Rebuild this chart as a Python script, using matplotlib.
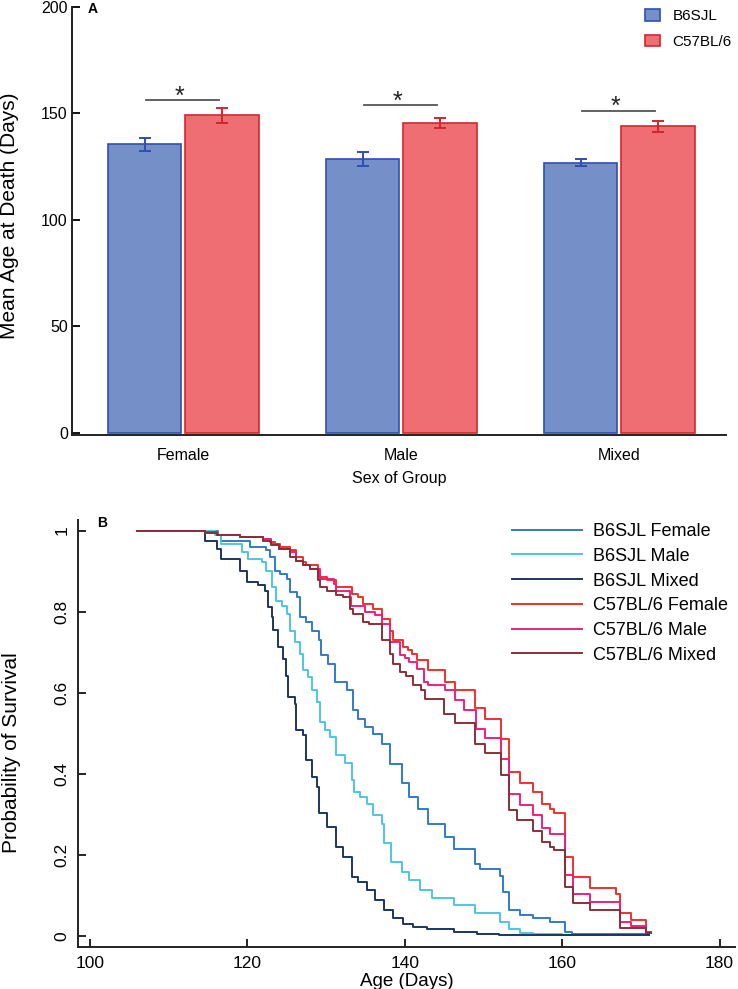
import numpy as np
import matplotlib
matplotlib.use("Agg")
import matplotlib.pyplot as plt

plt.rcParams['font.family'] = ['Liberation Sans', 'DejaVu Sans']

# panel A data
groups = ["Female", "Male", "Mixed"]
strains = ["B6SJL", "C57BL/6"]
mean_b6sjl = [135.5, 128.5, 126.9]
err_b6sjl = [3.0, 3.2, 1.5]
mean_c57 = [149.1, 145.5, 143.9]
err_c57 = [3.4, 2.4, 2.4]
sig_line_y = [156.3, 153.8, 151.3]

# panel B data (Kaplan-Meier steps: day, survival after step)
b6_female_days = [106, 116.3, 116.7, 120.3, 122.4, 122.9, 123.5, 124.2, 125.0, 125.4,
                  126.3, 126.7, 127.5, 128.2, 129.1, 129.4, 130.3, 131.1, 132.6, 133.4,
                  134.1, 134.9, 136.0, 137.1, 138.1, 139.6, 140.6, 141.7, 143.0, 145.1,
                  146.2, 148.9, 149.5, 152.1, 152.5, 153.3, 154.6, 156.3, 158.5, 160.3,
                  161.2, 171.0]
b6_female_surv = [1.0, 0.988, 0.975, 0.959, 0.951, 0.934, 0.901, 0.893, 0.881, 0.848,
                  0.836, 0.786, 0.774, 0.753, 0.729, 0.692, 0.671, 0.626, 0.606, 0.556,
                  0.536, 0.515, 0.497, 0.472, 0.425, 0.376, 0.343, 0.314, 0.277, 0.244,
                  0.215, 0.178, 0.165, 0.147, 0.108, 0.063, 0.051, 0.043, 0.035, 0.010,
                  0.004, 0.004]

b6_male_days = [106, 115.9, 116.7, 119.3, 120.1, 121.8, 122.4, 123.1, 123.7, 124.4,
                125.0, 125.4, 126.0, 126.7, 127.1, 127.7, 128.2, 128.8, 129.2, 129.9,
                130.5, 131.2, 132.4, 133.3, 133.5, 134.3, 135.2, 136.0, 137.1, 137.3,
                138.3, 139.6, 140.6, 141.9, 143.4, 146.2, 148.9, 152.1, 153.2, 154.6,
                156.3, 160.0, 165.0]
b6_male_surv = [1.0, 0.988, 0.967, 0.946, 0.930, 0.922, 0.901, 0.860, 0.827, 0.815,
                0.795, 0.753, 0.725, 0.696, 0.655, 0.639, 0.606, 0.577, 0.527, 0.507,
                0.491, 0.445, 0.426, 0.384, 0.355, 0.343, 0.326, 0.298, 0.277, 0.228,
                0.182, 0.158, 0.137, 0.113, 0.092, 0.076, 0.055, 0.035, 0.016, 0.008,
                0.004, 0.001, 0.001]

b6_mixed_days = [106, 114.6, 116.1, 116.7, 119.1, 119.9, 121.4, 122.2, 122.6, 123.1,
                 123.3, 123.9, 124.5, 124.9, 125.2, 126.0, 126.2, 127.1, 127.5, 128.2,
                 128.8, 129.1, 130.1, 131.2, 132.2, 133.3, 134.1, 135.2, 136.2, 137.3,
                 138.5, 139.8, 141.1, 142.8, 146.2, 149.2, 152.0, 171.0]
b6_mixed_surv = [1.0, 0.975, 0.955, 0.930, 0.901, 0.873, 0.865, 0.852, 0.811, 0.786,
                 0.754, 0.712, 0.684, 0.640, 0.590, 0.573, 0.507, 0.496, 0.433, 0.392,
                 0.367, 0.302, 0.269, 0.219, 0.195, 0.145, 0.133, 0.113, 0.088, 0.063,
                 0.043, 0.030, 0.022, 0.016, 0.010, 0.004, 0.001, 0.001]

c57_female_days = [106, 114.6, 116.1, 119.1, 122.0, 122.9, 123.5, 124.2, 125.4, 126.2,
                   127.1, 127.5, 129.0, 129.2, 130.1, 131.2, 133.3, 134.1, 134.7, 136.0,
                   137.1, 138.1, 138.5, 139.8, 140.4, 140.9, 141.5, 143.0, 145.1, 146.4,
                   148.9, 150.2, 152.2, 153.2, 154.6, 156.3, 157.4, 158.5, 158.9, 160.4,
                   161.4, 163.5, 166.9, 167.3, 168.8, 170.7, 171.3]
c57_female_surv = [1.0, 0.997, 0.990, 0.985, 0.980, 0.972, 0.967, 0.959, 0.951, 0.934,
                   0.922, 0.914, 0.897, 0.885, 0.877, 0.860, 0.844, 0.836, 0.819, 0.807,
                   0.782, 0.753, 0.729, 0.712, 0.704, 0.696, 0.680, 0.655, 0.626, 0.606,
                   0.561, 0.536, 0.485, 0.404, 0.377, 0.355, 0.326, 0.314, 0.303, 0.195,
                   0.144, 0.117, 0.103, 0.055, 0.040, 0.010, 0.010]

c57_male_days = [106, 114.6, 116.1, 119.1, 122.0, 123.0, 124.0, 125.4, 126.2, 127.1,
                 128.0, 129.2, 131.0, 131.2, 133.0, 133.2, 135.0, 136.2, 137.1, 138.1,
                 139.4, 140.0, 140.6, 141.5, 142.4, 143.0, 145.1, 146.4, 147.5, 149.0,
                 150.2, 152.2, 153.2, 154.6, 156.3, 157.4, 158.5, 160.4, 161.4, 163.5,
                 167.3, 168.8, 170.7, 171.3]
c57_male_surv = [1.0, 0.997, 0.990, 0.985, 0.978, 0.968, 0.955, 0.946, 0.926, 0.914,
                 0.905, 0.881, 0.869, 0.852, 0.836, 0.815, 0.800, 0.791, 0.770, 0.725,
                 0.692, 0.685, 0.676, 0.659, 0.626, 0.618, 0.606, 0.581, 0.556, 0.511,
                 0.487, 0.437, 0.351, 0.322, 0.298, 0.267, 0.252, 0.150, 0.103, 0.084,
                 0.035, 0.024, 0.010, 0.010]

c57_mixed_days = [106, 114.6, 116.1, 119.1, 122.0, 123.0, 124.0, 125.4, 126.2, 127.1,
                  128.0, 129.0, 129.2, 130.1, 131.2, 132.2, 133.0, 133.4, 134.7, 135.5,
                  137.1, 138.1, 138.5, 139.4, 140.1, 141.0, 142.0, 142.6, 145.0, 146.4,
                  148.9, 150.2, 152.2, 153.2, 154.2, 156.3, 157.4, 158.5, 158.9, 160.4,
                  161.4, 163.5, 167.3, 170.7, 171.3]
c57_mixed_surv = [1.0, 0.995, 0.990, 0.985, 0.975, 0.965, 0.955, 0.934, 0.926, 0.914,
                  0.905, 0.877, 0.860, 0.852, 0.840, 0.836, 0.807, 0.795, 0.774, 0.770,
                  0.729, 0.696, 0.671, 0.651, 0.640, 0.618, 0.606, 0.585, 0.548, 0.524,
                  0.474, 0.450, 0.396, 0.310, 0.285, 0.259, 0.232, 0.219, 0.211, 0.121,
                  0.080, 0.063, 0.018, 0.006, 0.006]

curve_labels = ["B6SJL Female", "B6SJL Male", "B6SJL Mixed",
                "C57BL/6 Female", "C57BL/6 Male", "C57BL/6 Mixed"]

fig = plt.figure(figsize=(7.38, 9.89), dpi=100)
W, H = 738.0, 989.0

# ---- panel A ----
ax1 = fig.add_axes([72 / W, 1 - 435 / H, 654 / W, 428 / H])
x = np.arange(len(groups))
off, bw = 0.177, 0.338
blue_fill, blue_edge = "#7590c8", "#2e4fb2"
red_fill, red_edge = "#ee6e73", "#d3262c"

b1 = ax1.bar(x - off, mean_b6sjl, bw, color=blue_fill, edgecolor=blue_edge, linewidth=1.2, label=strains[0])
b2 = ax1.bar(x + off, mean_c57, bw, color=red_fill, edgecolor=red_edge, linewidth=1.2, label=strains[1])
ax1.errorbar(x - off, mean_b6sjl, yerr=err_b6sjl, fmt="none", ecolor=blue_edge, elinewidth=1.4, capsize=4.5, capthick=1.4)
ax1.errorbar(x + off, mean_c57, yerr=err_c57, fmt="none", ecolor=red_edge, elinewidth=1.4, capsize=4.5, capthick=1.4)

for i, yy in enumerate(sig_line_y):
    ax1.plot([x[i] - 0.17, x[i] + 0.165], [yy, yy], color="#555555", lw=1.3)
    ax1.text(x[i] - 0.015, yy - 4.0, "*", ha="center", va="bottom", fontsize=18, color="#222222")

ax1.set_xlim(-0.51, 2.49)
ax1.set_ylim(-1, 200)
ax1.set_yticks([0, 50, 100, 150, 200])
ax1.set_xticks(x)
ax1.set_xticklabels(groups)
ax1.tick_params(axis="x", length=0, pad=9, labelsize=11.5)
ax1.tick_params(axis="y", direction="in", length=6, width=1.3, pad=3, labelsize=11.5)
for s in ["top", "right"]:
    ax1.spines[s].set_visible(False)
for s in ["left", "bottom"]:
    ax1.spines[s].set_linewidth(1.4)
    ax1.spines[s].set_color("#222222")
ax1.set_xlabel("Sex of Group", fontsize=11.5, labelpad=6)
ax1.set_ylabel("Mean Age at Death (Days)", fontsize=15)
ax1.yaxis.set_label_coords(-0.081, 0.512)
fig.text(88 / W, 1 - 9 / H, "A", fontsize=10, fontweight="bold", va="center")
fig.legend(handles=[b1, b2], loc="upper left", bbox_to_anchor=(645 / W, 1 - 9 / H),
           frameon=False, fontsize=11, handlelength=1.0, handleheight=0.8,
           handletextpad=0.8, labelspacing=0.75, borderpad=0, borderaxespad=0)

# ---- panel B ----
ax2 = fig.add_axes([78 / W, 1 - 946.7 / H, 657 / W, 426.7 / H])
curves = [
    (b6_female_days, b6_female_surv, "#2f7bcc"),
    (b6_male_days, b6_male_surv, "#4dc6e2"),
    (b6_mixed_days, b6_mixed_surv, "#1b3660"),
    (c57_female_days, c57_female_surv, "#f2302c"),
    (c57_male_days, c57_male_surv, "#ef1f7c"),
    (c57_mixed_days, c57_mixed_surv, "#8a2f38"),
]
for (d, s, c), lab in zip(curves, curve_labels):
    ax2.step(d, s, where="post", color=c, lw=1.4, label=lab)

ax2.set_xlim(98.48, 181.96)
ax2.set_ylim(-0.027, 1.026)
ax2.set_xticks([100, 120, 140, 160, 180])
ax2.set_yticks([0, 0.2, 0.4, 0.6, 0.8, 1])
ax2.set_yticklabels(["0", "0.2", "0.4", "0.6", "0.8", "1"], rotation=90, va="center")
ax2.tick_params(axis="both", direction="in", length=6, width=1.2, labelsize=12.5)
ax2.tick_params(axis="y", pad=6)
ax2.tick_params(axis="x", pad=7)
for s in ["top", "right"]:
    ax2.spines[s].set_visible(False)
for s in ["left", "bottom"]:
    ax2.spines[s].set_linewidth(1.4)
    ax2.spines[s].set_color("#222222")
ax2.set_xlabel("Age (Days)", fontsize=13.5, labelpad=1)
ax2.set_ylabel("Probability of Survival", fontsize=15)
ax2.yaxis.set_label_coords(-0.087, 0.455)
fig.text(97 / W, 1 - 523 / H, "B", fontsize=10, fontweight="bold", va="center")
ax2.legend(loc="upper left", bbox_to_anchor=(512 / W, 1 - 523 / H), bbox_transform=fig.transFigure,
           frameon=False, fontsize=13, handlelength=3.9, handletextpad=0.6,
           labelspacing=0.43, borderpad=0, borderaxespad=0)

fig.savefig("out.png", dpi=100)
